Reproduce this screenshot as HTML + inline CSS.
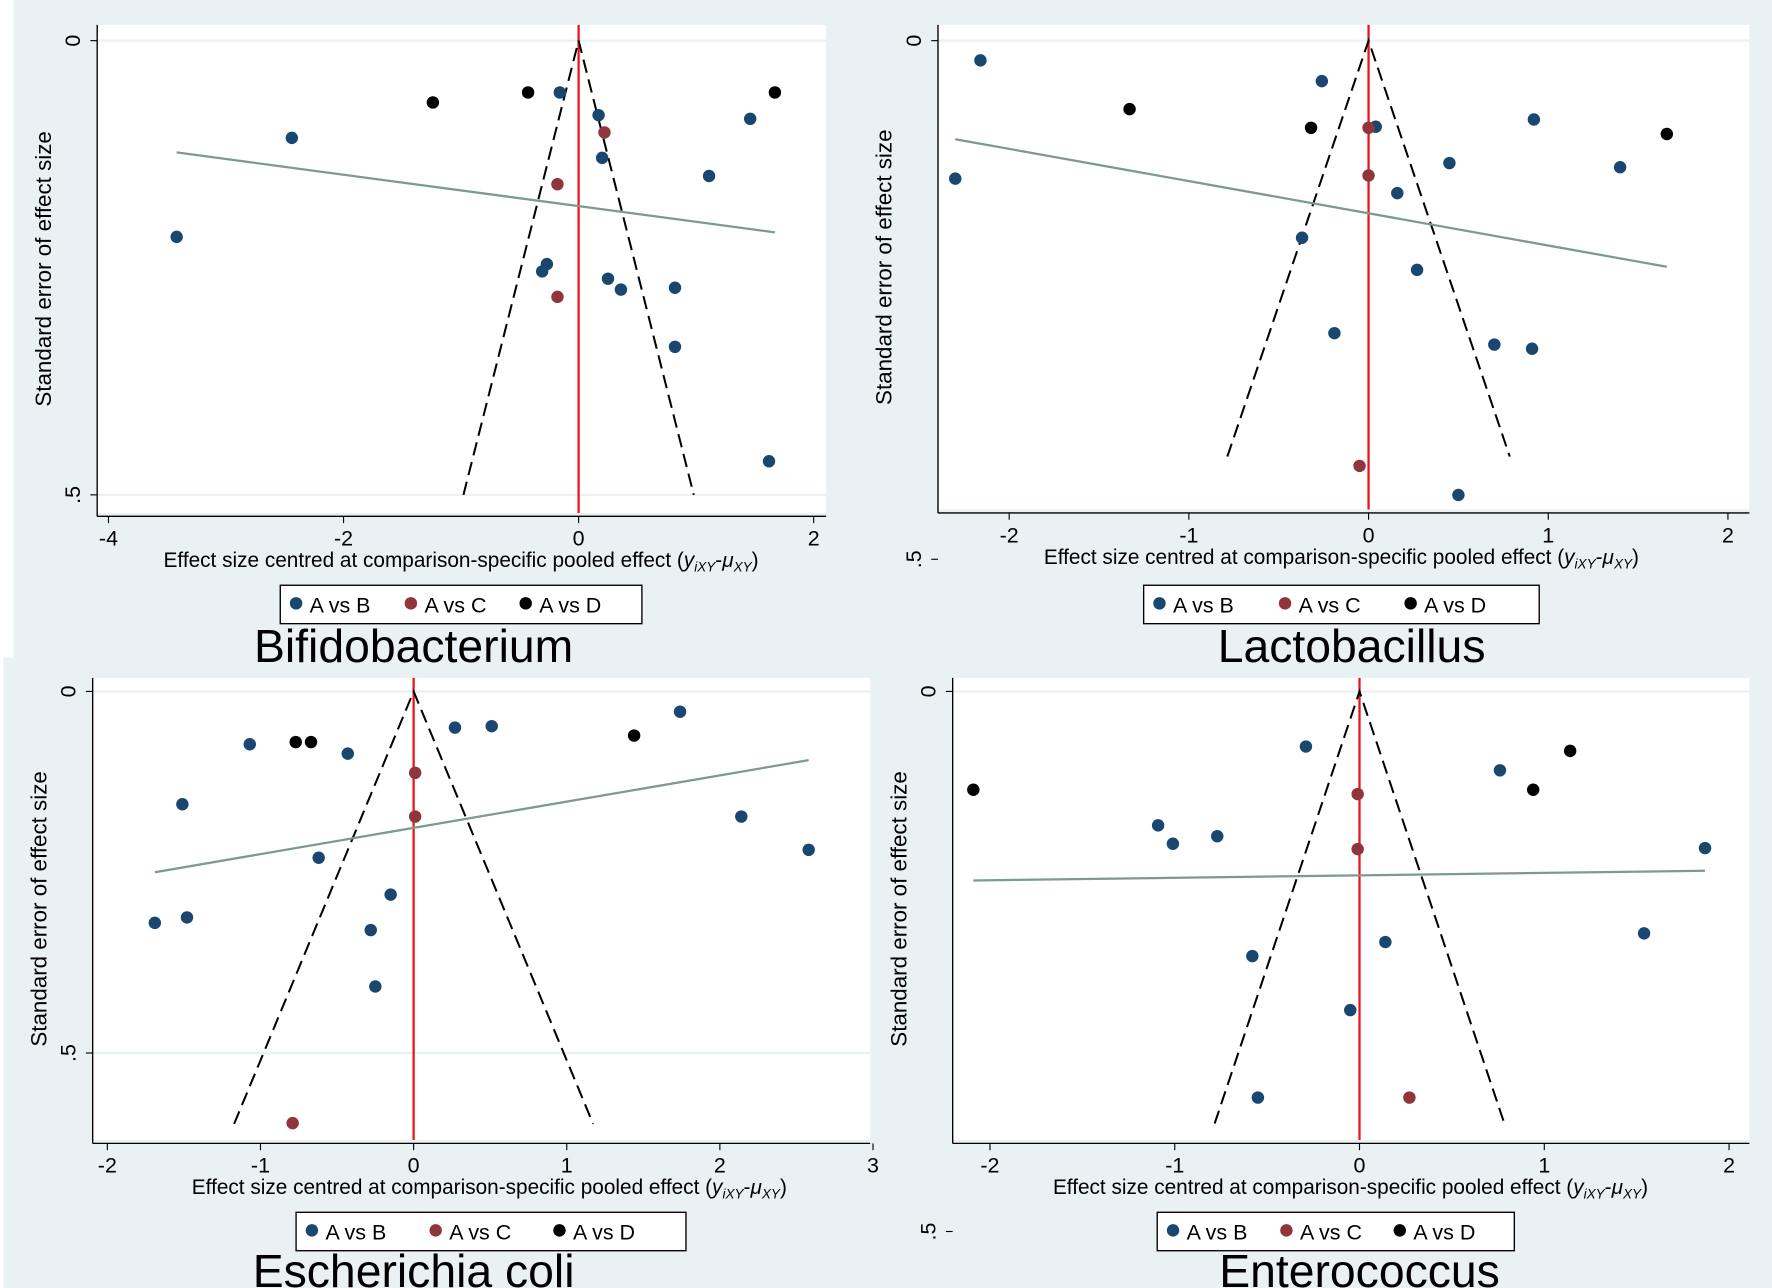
<!DOCTYPE html>
<html><head><meta charset="utf-8"><style>
html,body{margin:0;padding:0;background:#fff;}
svg{display:block;font-family:"Liberation Sans",sans-serif;}
</style></head><body>
<svg id="fig" width="1772" height="1288" viewBox="0 0 1568 1140" preserveAspectRatio="none" xmlns="http://www.w3.org/2000/svg">
<rect x="0" y="0" width="1568" height="1140" fill="#ffffff"/>
<rect x="12" y="0" width="1556" height="582" fill="#eaf1f3"/>
<rect x="3" y="582" width="1565" height="558" fill="#eaf1f3"/>
</svg>
<script>
// ---------- data ----------
const seriesNames = ["A vs B","A vs C","A vs D"];
const bifidoBx = [-0.16,0.17,-2.44,1.46,0.20,1.11,-3.42,-0.27,-0.31,0.25,0.36,0.82,0.82,1.62];
const bifidoBy = [0.057,0.082,0.107,0.086,0.129,0.149,0.216,0.246,0.254,0.262,0.274,0.272,0.337,0.463];
const bifidoCx = [0.22,-0.18,-0.18];
const bifidoCy = [0.101,0.158,0.282];
const bifidoDx = [-1.24,-0.43,1.67];
const bifidoDy = [0.068,0.057,0.057];
const bifidoReg = [-3.42,0.123,1.67,0.211];

const lactoBx = [-2.16,-0.26,0.04,0.92,-2.30,0.45,1.40,0.16,-0.37,0.27,-0.19,0.70,0.91,0.50];
const lactoBy = [0.019,0.039,0.083,0.076,0.133,0.118,0.122,0.147,0.190,0.221,0.282,0.293,0.297,0.438];
const lactoCx = [0,0,-0.05];
const lactoCy = [0.084,0.130,0.410];
const lactoDx = [-1.33,-0.32,1.66];
const lactoDy = [0.066,0.084,0.090];
const lactoReg = [-2.30,0.095,1.66,0.218];

const ecoliBx = [-1.07,-0.43,0.27,0.51,1.74,-1.51,-0.62,-0.15,-1.69,-1.48,-0.28,-0.25,2.14,2.58];
const ecoliBy = [0.073,0.086,0.050,0.048,0.028,0.156,0.230,0.281,0.320,0.3125,0.330,0.408,0.173,0.219];
const ecoliCx = [0.01,0.01,-0.79];
const ecoliCy = [0.1125,0.173,0.597];
const ecoliDx = [-0.77,-0.67,1.44];
const ecoliDy = [0.070,0.070,0.061];
const ecoliReg = [-1.69,0.25,2.58,0.095];

const enteroBx = [-0.29,0.76,-1.09,-1.01,-0.77,1.87,1.54,0.14,-0.58,-0.05,-0.55];
const enteroBy = [0.051,0.073,0.124,0.141,0.134,0.145,0.224,0.232,0.245,0.295,0.376];
const enteroCx = [-0.01,-0.01,0.27];
const enteroCy = [0.095,0.146,0.376];
const enteroDx = [-2.09,1.14,0.94];
const enteroDy = [0.091,0.055,0.091];
const enteroReg = [-2.09,0.175,1.87,0.166];

const bifidoXTicks = [-4,-2,0,2];
const lactoXTicks = [-2,-1,0,1,2];
const ecoliXTicks = [-2,-1,0,1,2,3];
const enteroXTicks = [-2,-1,0,1,2];
const yTicks = [0,0.5];
const yTickLabels = ["0",".5"];
const funnelMaxSE = [0.5,0.401,0.598,0.4];

// ---------- drawing ----------
const NS="http://www.w3.org/2000/svg";
const svg=document.getElementById('fig');
function mk(tag,attrs,parent){const e=document.createElementNS(NS,tag);for(const k in attrs)e.setAttribute(k,attrs[k]);(parent||svg).appendChild(e);return e;}
const colors=["#1a476f","#90353b","#000000"];

function panel(p){
  const g=mk('g',{});
  
  
  const X=v=>p.x0+v*p.xs, Y=v=>p.y0+v*p.ys;
  const pa=mk('rect',{x:p.L,y:p.T,width:p.R-p.L,height:p.B-p.T,fill:'#fff'},g);
  
  
  yTicks.forEach((t,i)=>{
    const yy=Y(t);
    if(yy<=p.B){const gl=mk('line',{x1:p.L,x2:p.R,y1:yy,y2:yy,stroke:'#eaf1f3','stroke-width':2},g);
      }
    mk('line',{x1:p.L-6,x2:p.L,y1:yy,y2:yy,stroke:'#000','stroke-width':1},g);
    const tl=mk('text',{x:p.L-15,y:yy,'font-size':19,'text-anchor':'middle',transform:`rotate(-90 ${p.L-15} ${yy})`},g);
    tl.textContent=yTickLabels[i];
    
  });
  mk('line',{x1:p.L,x2:p.L,y1:p.T,y2:p.B+3,stroke:'#000','stroke-width':1.2},g);
  mk('line',{x1:p.L,x2:p.R,y1:p.B+3,y2:p.B+3,stroke:'#000','stroke-width':1.2},g);
  p.xt.forEach(t=>{
    const xx=X(t);
    mk('line',{x1:xx,x2:xx,y1:p.B+3,y2:p.B+9,stroke:'#000'},g);
    const tl=mk('text',{x:xx,y:p.B+29,'font-size':19,'text-anchor':'middle'},g);
    tl.textContent=String(t);
    
  });
  const cy=(p.T+p.B)/2;
  const yt=mk('text',{x:p.L-41,y:cy,'font-size':19.8,'text-anchor':'middle',transform:`rotate(-90 ${p.L-41} ${cy})`},g);
  yt.textContent='Standard error of effect size';
  
  const xt=mk('text',{x:p.xtx,y:p.B+48,'font-size':18.4,'text-anchor':'middle'},g);
  xt.innerHTML='Effect size centred at comparison-specific pooled effect (<tspan font-style="italic">y</tspan><tspan font-style="italic" font-size="12" dy="4">iXY</tspan><tspan dy="-4">-</tspan><tspan font-style="italic">μ</tspan><tspan font-style="italic" font-size="12" dy="4">XY</tspan><tspan dy="-4">)</tspan>';
  
  const rl=mk('line',{x1:X(0),x2:X(0),y1:p.T,y2:p.B,stroke:'#e8141c','stroke-width':2},g);
  
  const m=p.fse;
  const fn=mk('polyline',{points:`${X(-1.96*m)},${Y(m)} ${X(0)},${Y(0)} ${X(1.96*m)},${Y(m)}`,fill:'none',stroke:'#000','stroke-width':1.8,'stroke-dasharray':'12,6'},g);
  
  const r=p.reg;
  const rg=mk('line',{x1:X(r[0]),y1:Y(r[1]),x2:X(r[2]),y2:Y(r[3]),stroke:'#7d9a8c','stroke-width':2},g);
  
  p.series.forEach((s,si)=>{
    s[0].forEach((v,i)=>{
      const c=mk('circle',{cx:X(v),cy:Y(s[1][i]),r:5.5,fill:colors[si]},g);
      
      
    });
  });
  const lg=mk('g',{},g);
  
  mk('rect',{x:p.lg[0],y:p.lg[1],width:p.lg[2],height:34,fill:'#fff',stroke:'#000','stroke-width':1.2},lg);
  const step=p.lg[2]/3.15;
  seriesNames.forEach((n,i)=>{
    const ex=p.lg[0]+14+i*step;
    const e=mk('g',{},lg);
    
    mk('circle',{cx:ex,cy:p.lg[1]+16,r:5.5,fill:colors[i]},e);
    const t=mk('text',{x:ex+12,y:p.lg[1]+24,'font-size':19},e);t.textContent=n;
  });
  const ti=mk('text',{x:p.tx,y:p.ty,'font-size':41,'text-anchor':'middle'},g);
  ti.textContent=p.title;
  
}

panel({id:'bifidobacterium',title:'Bifidobacterium',L:86,R:731,T:22,B:454,x0:512,xs:104,y0:36,ys:804,xt:bifidoXTicks,xtx:408,
  fse:funnelMaxSE[0],reg:bifidoReg,series:[[bifidoBx,bifidoBy],[bifidoCx,bifidoCy],[bifidoDx,bifidoDy]],lg:[248,518,320],tx:366,ty:586});
panel({id:'lactobacillus',title:'Lactobacillus',L:830,R:1548,T:22,B:451,x0:1211,xs:159,y0:36,ys:918,xt:lactoXTicks,xtx:1187,
  fse:funnelMaxSE[1],reg:lactoReg,series:[[lactoBx,lactoBy],[lactoCx,lactoCy],[lactoDx,lactoDy]],lg:[1012,518,350],tx:1196,ty:586});
panel({id:'escherichia-coli',title:'Escherichia coli',L:82,R:770,T:600,B:1009,x0:366,xs:135.5,y0:612,ys:640,xt:ecoliXTicks,xtx:433,
  fse:funnelMaxSE[2],reg:ecoliReg,series:[[ecoliBx,ecoliBy],[ecoliCx,ecoliCy],[ecoliDx,ecoliDy]],lg:[262,1073,345],tx:366,ty:1139});
panel({id:'enterococcus',title:'Enterococcus',L:843,R:1548,T:600,B:1009,x0:1203,xs:163.5,y0:612,ys:956,xt:enteroXTicks,xtx:1195,
  fse:funnelMaxSE[3],reg:enteroReg,series:[[enteroBx,enteroBy],[enteroCx,enteroCy],[enteroDx,enteroDy]],lg:[1024,1073,316],tx:1203,ty:1139});
</script>
</body></html>
